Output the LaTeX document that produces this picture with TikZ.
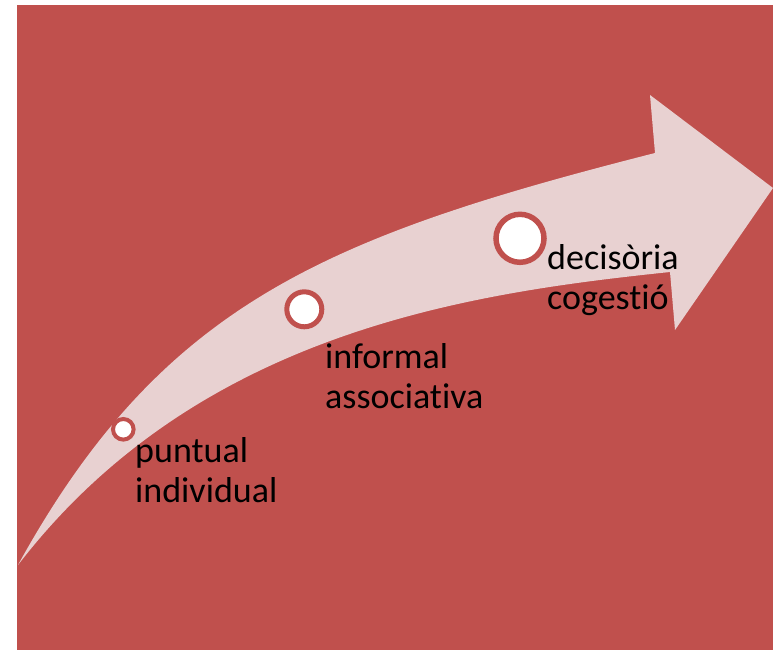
\documentclass[tikz,border=0pt]{standalone}
\usepackage{fontspec}
\setmainfont{Carlito}[Ligatures={NoCommon}]
\definecolor{bgred}{HTML}{C0504D}
\definecolor{arrowpink}{HTML}{E8D1D1}
\begin{document}
\begin{tikzpicture}[x=1pt,y=-1pt,
  dot/.style={circle,draw=bgred,fill=white,inner sep=0pt},
  lbl/.style={anchor=base west,inner sep=0pt,align=left,font=\fontsize{36}{40}\selectfont,text=black}]
\useasboundingbox (0,0) rectangle (773,650);
\fill[bgred] (17,5) rectangle (773,650);
% arrow
\coordinate (tail) at (18,565);
\coordinate (iu) at (655,153);
\coordinate (ub) at (650,95);
\coordinate (tip) at (773,188);
\coordinate (lb) at (675,330);
\coordinate (il) at (670,272);
\fill[arrowpink] (tail) .. controls (162,304) and (325,237) .. (iu)
  -- (ub) -- (tip) -- (lb) -- (il)
  .. controls (470,293) and (198,331) .. (tail) -- cycle;
% dots
\node[dot,line width=4pt,minimum size=20.6pt] (c1) at (123.3,429.3) {};
\node[dot,line width=5pt,minimum size=35pt] (c2) at (304.3,309.3) {};
\node[dot,line width=5.5pt,minimum size=48pt] (c3) at (520,238.3) {};
% labels (anchor = baseline of last line)
\node[lbl] (t1) at (135,502) {puntual\\individual};
\node[lbl] (t2) at (325,408) {informal\\associativa};
\node[lbl] (t3) at (547,309) {decisòria\\cogestió};
\end{tikzpicture}
\end{document}
